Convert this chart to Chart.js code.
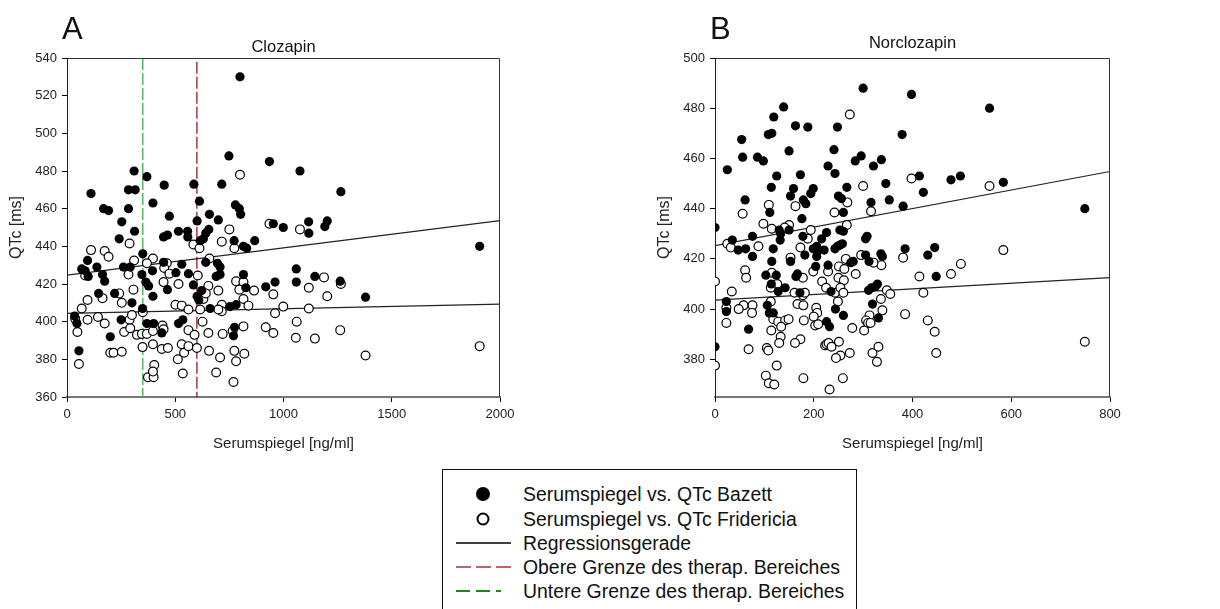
<!DOCTYPE html>
<html>
<head>
<meta charset="utf-8">
<script src="https://cdn.jsdelivr.net/npm/chart.js@4.4.1/dist/chart.umd.min.js"></script>
<style>
  body { margin: 0; background: #fff; font-family: "Liberation Sans", Arial, sans-serif; }
  .panel { position: absolute; top: 0; }
  #legend { position: absolute; left: 442px; top: 469px; width: 413px; height: 150px; border: 1.5px solid #111; border-bottom: none; color: #111; font-size: 19.4px; }
  .row { position: absolute; left: 0; height: 24px; width: 100%; }
  .row svg { position: absolute; left: 10px; top: 0; }
  .row span { position: absolute; left: 80px; top: 1px; line-height: 22px; white-space: nowrap; }
</style>
</head>
<body>
<canvas id="chartA" class="panel" style="left:0px" width="540" height="460"></canvas>
<canvas id="chartB" class="panel" style="left:648px" width="502" height="460"></canvas>

<div id="legend">
  <div class="row" style="top:12px"><svg width="60" height="24"><circle cx="30" cy="12" r="7" fill="#000"/></svg><span>Serumspiegel vs. QTc Bazett</span></div>
  <div class="row" style="top:37px"><svg width="60" height="24"><circle cx="30" cy="12" r="5.5" fill="#fff" stroke="#000" stroke-width="2"/></svg><span>Serumspiegel vs. QTc Fridericia</span></div>
  <div class="row" style="top:61px"><svg width="60" height="24"><line x1="3" y1="12" x2="58" y2="12" stroke="#000" stroke-width="1.5"/></svg><span>Regressionsgerade</span></div>
  <div class="row" style="top:85px"><svg width="60" height="24"><line x1="3" y1="12" x2="58" y2="12" stroke="#a8323a" stroke-width="1.5" stroke-dasharray="15,5"/></svg><span>Obere Grenze des therap. Bereiches</span></div>
  <div class="row" style="top:109px"><svg width="60" height="24"><line x1="3" y1="12" x2="48" y2="12" stroke="#1b8a1b" stroke-width="2" stroke-dasharray="14,6"/></svg><span>Untere Grenze des therap. Bereiches</span></div>
</div>

<script>
// Clozapin: [Serumspiegel ng/ml, QTc ms]
var clozBazett = [[799,530],[748,488],[935,485],[1076,480],[310,480],[369,477],[586,473],[449,472.5],[715,473],[1265,469],
  [111,468],[284,470],[315,470],[397,463],[612,464],[169,460],[192,459],[284,460],[778,462],[796,460],[802,457],[658,457],
  [473,456],[699,454],[253,453],[601,453.5],[1116,453],[1202,453.5],[1191,450.5],[953,452],[999,450],[1117,447],[312,448],
  [515,448],[557,448],[558,445],[655,449],[641,447],[446,445],[464,446],[241,444],[615,443],[630,444],[772,443],[867,443],
  [815,440],[830,439],[1906,440],[350,436],[95,432.5],[446,431.5],[530,430.5],[641,431.5],[695,431],[707,429],[68,428],
  [84,427],[138,429],[261,429],[292,429],[395,427],[503,426],[689,424],[707,425],[561,425.5],[346,425],[164,425],[174,421.5],
  [98,424],[364,421],[377,419],[584,419.5],[815,425],[961,421],[918,418.5],[1059,428],[1059,421],[1145,424],[1262,421.5],
  [622,416.5],[464,417],[146,415],[220,415],[397,413.5],[1379,413],[601,413.5],[609,411.5],[300,410],[349,407],[661,407],
  [753,408],[781,409],[35,403],[250,401],[515,399],[535,401],[369,399],[400,399],[46,399],[438,394],[769,392.5],[200,392],
  [774,397],[55,384.5],[826,418]];
var clozFridericia = [[799,478],[750,449],[935,452],[1076,449],[715,442.5],[584,441],[612,439],[773,439],[289,441.5],[111,438],
  [174,437.5],[192,434.5],[310,432.5],[397,433.5],[369,431],[461,431],[449,428.5],[473,425.5],[658,433.5],[284,425],[84,424.5],
  [446,421],[515,420],[604,424.5],[781,421.5],[815,421],[796,417],[699,416.5],[653,419],[864,416.5],[307,417],[241,415],
  [164,412.5],[253,410],[95,411.5],[68,407],[630,412],[641,415],[715,409],[715,405.5],[699,406.5],[815,412],[838,408.5],
  [501,409],[530,408.5],[561,406.5],[350,405],[615,406.5],[999,408],[1117,407],[1117,418],[1202,413.5],[1187,423.5],[1265,420],
  [1061,400],[961,404.5],[953,414.5],[38,401.5],[95,401],[143,402.5],[174,399],[289,401],[300,403.5],[48,394.5],[264,394.5],
  [292,396.5],[323,393],[346,393.5],[369,393.5],[397,395],[441,398],[446,396],[561,395.5],[589,393],[626,400],[653,394],
  [719,393.5],[765,395],[815,397.5],[918,397],[953,394],[1057,391.5],[1145,391],[1262,395.5],[200,383.5],[215,383.5],[253,384],
  [349,386.5],[397,388],[438,385.5],[466,386],[512,380],[530,388],[541,383.5],[561,387],[600,386],[656,384.5],[707,381],
  [773,384.5],[781,379],[819,383],[1379,382],[1906,387],[55,377.5],[403,377],[374,370.5],[400,370.5],[397,373.5],[535,372.5],
  [689,373],[769,368]];
var clozRegBazett = [[0,424.7],[2000,453.6]];
var clozRegFridericia = [[0,404.4],[2000,409.3]];
var clozUpperLimit = [[600,538],[600,360]];
var clozLowerLimit = [[350,540],[350,360]];

// Norclozapin
var norBazett = [[300,488],[398,485.5],[556,480],[139,480.5],[119,476.5],[108,469.5],[115,470],[163,473],[188,472.5],[248,472.5],
  [379,469.5],[54,467.5],[241,463.5],[150,463],[56,460.5],[86,460.5],[98,459],[296,461],[284,459],[337,459.5],[25,455.5],
  [229,457],[321,457],[125,453],[173,453.5],[243,454],[414,453],[478,451.5],[497,453],[584,450.5],[114,448.5],[159,448],
  [199,448],[194,446],[267,448.5],[346,450],[422,446.5],[153,445],[250,445],[256,444],[61,443.5],[179,443.5],[184,442],
  [316,442.5],[353,443.5],[381,441],[749,440],[111,438.5],[260,438.5],[176,436],[0,432.5],[130,431.5],[133,430],[150,431.5],
  [226,430.5],[253,431.5],[260,431],[132,427.5],[178,429],[76,429],[216,428],[305,428],[308,429],[35,427.5],[47,423.5],[62,424],
  [118,424],[199,424],[206,425],[221,423.5],[243,424],[248,425],[253,425.5],[258,426],[385,424],[445,424.5],[76,421],[182,421.5],
  [206,421],[207,423],[305,421.5],[336,422],[339,421],[431,421.5],[312,419],[115,419],[153,419],[275,418.5],[280,419],[229,417.5],
  [204,417],[103,413.5],[124,413.5],[164,413],[167,414],[448,413],[114,410],[142,408.5],[128,407],[172,406.5],[235,407],
  [311,407.5],[317,408.5],[325,409],[329,410],[23,403],[106,401.5],[319,402],[244,400],[23,399],[110,398.5],[118,398.5],
  [260,397.5],[331,396.5],[226,395],[232,393],[68,392],[0,385]];
var norFridericia = [[273,477.5],[398,452],[300,449],[556,449],[163,441],[109,441.5],[268,442.5],[56,438],[242,438.5],[316,439],
  [98,434],[150,433.5],[115,432],[141,432.5],[194,431.5],[267,433.5],[88,425],[173,424.5],[188,428],[25,426],[32,424.5],
  [584,423.5],[381,420.5],[296,421.5],[265,420],[153,420.5],[337,417.5],[321,418.5],[498,418],[478,414],[414,413],[251,417],
  [262,416],[285,414],[61,415.5],[63,412.5],[0,411],[178,412.5],[217,411],[250,412.5],[261,411.5],[115,414.5],[229,415],
  [199,415],[126,410],[225,408.5],[161,406.5],[178,405.5],[182,406.5],[243,406.5],[254,408.5],[260,406.5],[34,407],[113,408.5],
  [348,407.5],[355,406],[422,406.5],[113,403],[249,403],[58,401.5],[48,400],[76,401.5],[75,398.5],[167,402],[179,401.5],
  [205,400.5],[207,398.5],[200,397],[336,404],[339,399.5],[313,397.5],[385,398],[23,400.5],[23,394.5],[118,396],[128,395],
  [142,395.5],[149,396],[180,395.5],[203,393.5],[209,394],[306,395.5],[310,394.5],[315,394.5],[431,395.5],[445,391],[134,393],
  [278,392.5],[302,391.5],[114,391.5],[133,389],[130,386.5],[173,388],[162,386.5],[251,387],[223,385.5],[226,386],[230,386.5],
  [236,385],[68,384],[105,384.5],[108,383.5],[273,382.5],[254,381.5],[245,380.5],[319,382.5],[331,385],[328,379],[448,382.5],
  [749,387],[0,377.5],[125,377.5],[103,373.5],[109,370.5],[120,370],[179,372.5],[259,372.5],[232,368]];
var norRegBazett = [[0,425.3],[800,454.8]];
var norRegFridericia = [[0,403.6],[800,412.5]];

var clozXTicks = [0, 500, 1000, 1500, 2000];
var clozYTicks = [360, 380, 400, 420, 440, 460, 480, 500, 520, 540];
var norXTicks = [0, 200, 400, 600, 800];
var norYTicks = [380, 400, 420, 440, 460, 480, 500];

function pts(list) {
  return list.map(function(p) { return {x: p[0], y: p[1]}; });
}

function lineSet(list, color, width, dash) {
  return {
    data: pts(list), showLine: true, borderColor: color, borderWidth: width,
    borderDash: dash || [], pointRadius: 0, fill: false
  };
}

function plain(v) { return String(v); }

function makePanel(id, letter, title, xMin, xMax, yMin, yMax, xTicks, yTicks, datasets, titleY) {
  var font = "Liberation Sans, Arial, sans-serif";
  var panelText = {
    id: 'panelText',
    afterDraw: function(chart) {
      var c = chart.ctx, a = chart.chartArea;
      c.save();
      // frame on top and right
      c.strokeStyle = '#333';
      c.lineWidth = 1;
      c.beginPath();
      c.moveTo(a.left, a.top + 0.5);
      c.lineTo(a.right - 0.5, a.top + 0.5);
      c.lineTo(a.right - 0.5, a.bottom);
      c.stroke();
      c.fillStyle = '#111';
      c.textAlign = 'center';
      c.textBaseline = 'alphabetic';
      c.font = '16.5px ' + font;
      c.fillText(title, (a.left + a.right) / 2, titleY);
      c.textAlign = 'left';
      c.font = '31px ' + font;
      c.fillText(letter, 62, 39);
      c.restore();
    }
  };
  return new Chart(document.getElementById(id), {
    type: 'scatter',
    data: { datasets: datasets },
    options: {
      responsive: false,
      animation: false,
      events: [],
      layout: { padding: { left: 0, top: 58, right: 40, bottom: 0 } },
      plugins: { legend: { display: false }, tooltip: { enabled: false } },
      scales: {
        x: {
          type: 'linear', min: xMin, max: xMax,
          afterFit: function(s) { s.height = 63; },
          afterBuildTicks: function(s) { s.ticks = xTicks.map(function(v) { return {value: v}; }); },
          grid: { drawOnChartArea: false, drawTicks: true, tickLength: 5, color: '#000' },
          border: { display: true, color: '#777', width: 2 },
          ticks: { color: '#222', font: { size: 13, family: font }, padding: 5, maxRotation: 0, callback: plain },
          title: { display: true, text: 'Serumspiegel [ng/ml]', color: '#222', font: { size: 15, family: font }, padding: { top: 0, bottom: 7 } }
        },
        y: {
          type: 'linear', min: yMin, max: yMax,
          afterFit: function(s) { s.width = 67; },
          afterBuildTicks: function(s) { s.ticks = yTicks.map(function(v) { return {value: v}; }); },
          grid: { drawOnChartArea: false, drawTicks: true, tickLength: 5, color: '#000' },
          border: { display: true, color: '#222', width: 1 },
          ticks: { color: '#222', font: { size: 13, family: font }, padding: 5, callback: plain },
          title: { display: true, text: 'QTc [ms]', color: '#222', font: { size: 16, family: font }, padding: { top: 7, bottom: 0 } }
        }
      }
    },
    plugins: [panelText]
  });
}

function pointSets(filled, open) {
  return [
    { data: pts(filled), pointRadius: 4.6, backgroundColor: '#000', borderColor: '#000', borderWidth: 0 },
    { data: pts(open), pointRadius: 4.4, backgroundColor: '#fff', borderColor: '#000', borderWidth: 1.2 }
  ];
}

makePanel('chartA', 'A', 'Clozapin', 0, 2000, 360, 540, clozXTicks, clozYTicks,
  pointSets(clozBazett, clozFridericia).concat([
    lineSet(clozRegBazett, '#222', 1.2),
    lineSet(clozRegFridericia, '#222', 1.2),
    lineSet(clozUpperLimit, '#8b0a0a', 1.2, [12, 3]),
    lineSet(clozLowerLimit, '#5cb85c', 1.5, [12, 3])
  ]), 52);

makePanel('chartB', 'B', 'Norclozapin', 0, 800, 365, 500, norXTicks, norYTicks,
  pointSets(norBazett, norFridericia).concat([
    lineSet(norRegBazett, '#222', 1.2),
    lineSet(norRegFridericia, '#222', 1.2)
  ]), 48);
</script>
</body>
</html>
